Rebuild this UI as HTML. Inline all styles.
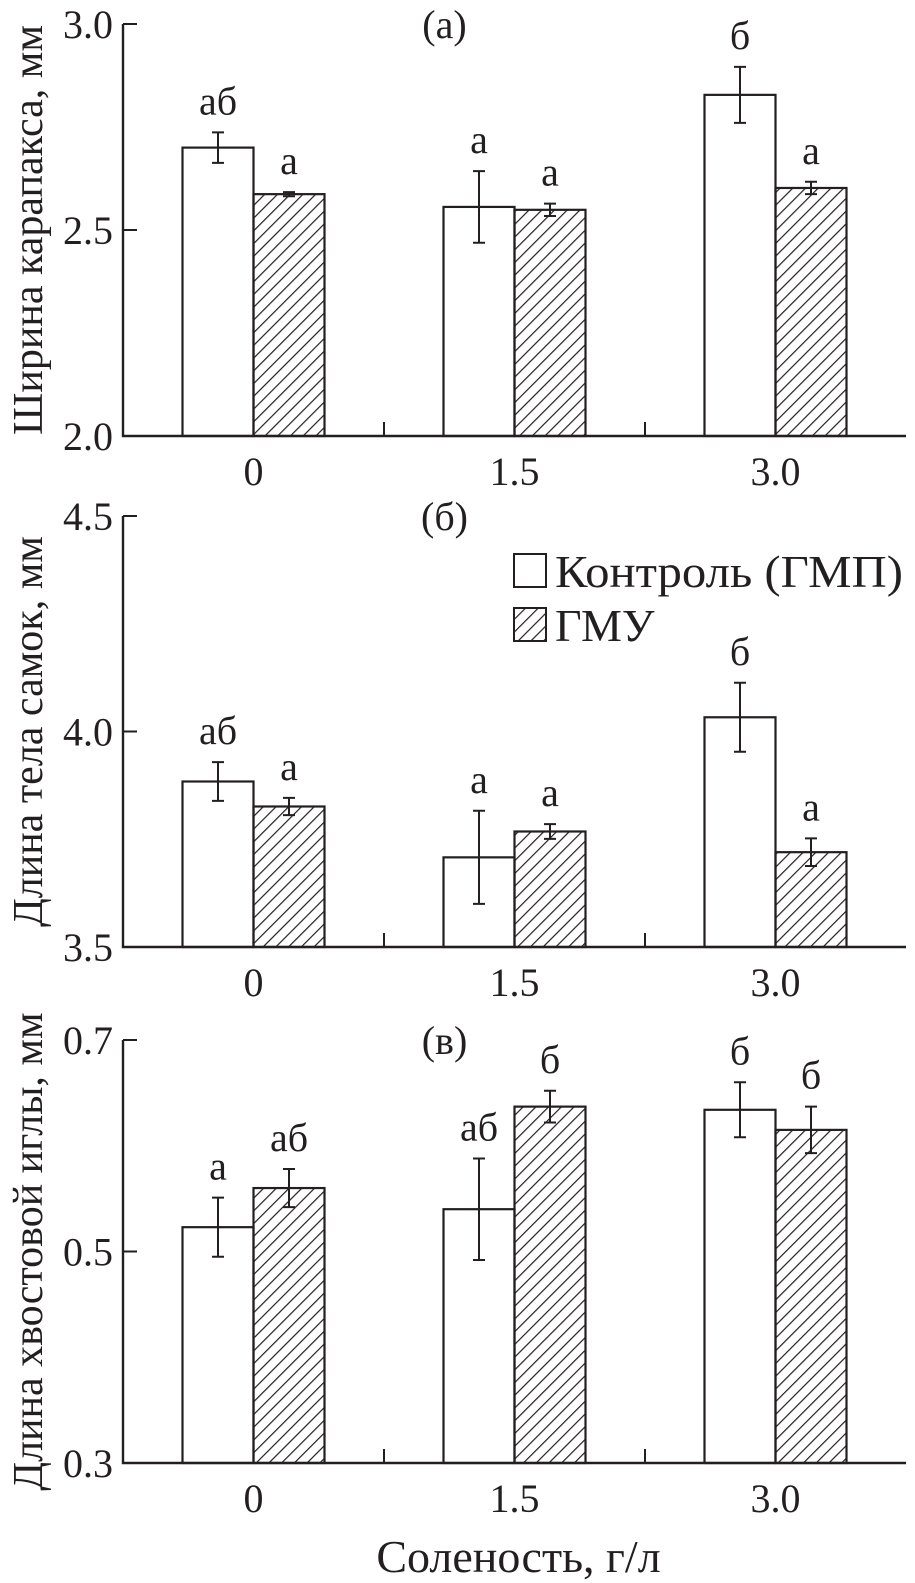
<!DOCTYPE html>
<html><head><meta charset="utf-8"><style>
html,body{margin:0;padding:0;background:#fff}
svg{display:block}
text{font-family:"Liberation Serif",serif;fill:#231f20}
</style></head><body>
<svg id="chart" width="915" height="1583" viewBox="0 0 915 1583" xmlns="http://www.w3.org/2000/svg">
<defs>
<pattern id="hatch" patternUnits="userSpaceOnUse" width="9" height="9" patternTransform="rotate(45)">
<line x1="0" y1="0" x2="0" y2="9" stroke="#231f20" stroke-width="2.4"/>
</pattern>
</defs>
<g id="root"></g>
</svg>
<script>
const categories = ["0","1.5","3.0"];
const ctrlA = [2.70, 2.556, 2.828];
const ctrlAErr = [0.037, 0.087, 0.068];
const gmuA = [2.587, 2.549, 2.602];
const gmuAErr = [0.005, 0.015, 0.015];
const lettersCtrlA = ["аб","а","б"];
const lettersGmuA = ["а","а","а"];
const ctrlB = [3.884, 3.708, 4.033];
const ctrlBErr = [0.045, 0.108, 0.08];
const gmuB = [3.826, 3.768, 3.72];
const gmuBErr = [0.02, 0.017, 0.032];
const lettersCtrlB = ["аб","а","б"];
const lettersGmuB = ["а","а","а"];
const ctrlC = [0.523, 0.540, 0.634];
const ctrlCErr = [0.028, 0.048, 0.026];
const gmuC = [0.560, 0.637, 0.615];
const gmuCErr = [0.018, 0.015, 0.022];
const lettersCtrlC = ["а","аб","б"];
const lettersGmuC = ["аб","б","б"];
const ticksA = ["2.0","2.5","3.0"];
const ticksB = ["3.5","4.0","4.5"];
const ticksC = ["0.3","0.5","0.7"];

const NS="http://www.w3.org/2000/svg";
const root=document.getElementById('root');
function mk(tag,attrs,parent){const e=document.createElementNS(NS,tag);for(const k in attrs)e.setAttribute(k,attrs[k]);(parent||root).appendChild(e);return e;}
const X0=123, GW=261, BW=71;
function xc(i){return X0+GW*i+GW/2;}

function panel(cfg){
  const g=mk('g',{});
  
  
  const vmin=+cfg.ticks[0], vmax=+cfg.ticks[cfg.ticks.length-1];
  const y=v=>cfg.yBot-(v-vmin)/(vmax-vmin)*(cfg.yBot-cfg.yTop);
  for(let i=0;i<categories.length;i++){
    const c=xc(i);
    [[cfg.ctrl,cfg.ctrlErr,'#fff',c-BW,cfg.lc,'control'],[cfg.gmu,cfg.gmuErr,'url(#hatch)',c,cfg.lg,'gmu']].forEach(s=>{
      const v=s[0][i], e=s[1][i], x=s[3];
      const r=mk('rect',{x:x,y:y(v),width:BW,height:cfg.yBot-y(v),fill:s[2],stroke:'#231f20','stroke-width':2.2},g);
      
      
      const mx=x+BW/2;
      const eb=mk('path',{d:`M${mx},${y(v+e)}V${y(v-e)}M${mx-6},${y(v+e)}H${mx+6}M${mx-6},${y(v-e)}H${mx+6}`,stroke:'#231f20','stroke-width':2,fill:'none'},g);
      
      
      const t=mk('text',{x:mx,y:y(v+e)-18,'font-size':40,'text-anchor':'middle'},g);
      t.textContent=s[4][i];
      
      
    });
    const xl=mk('text',{x:c,y:cfg.yBot+49,'font-size':40,'text-anchor':'middle'},g);
    xl.textContent=categories[i];
    
    
  }
  const ax=mk('path',{d:`M${X0},${cfg.yTop}V${cfg.yBot}H${X0+GW*3}`,stroke:'#231f20','stroke-width':2.4,fill:'none'},g);
  
  
  for(let k=1;k<3;k++){mk('line',{x1:X0+GW*k,x2:X0+GW*k,y1:cfg.yBot,y2:cfg.yBot-14,stroke:'#231f20','stroke-width':2},g);}
  cfg.ticks.forEach(tv=>{
    const yy=y(+tv);
    mk('line',{x1:X0,x2:X0+14,y1:yy,y2:yy,stroke:'#231f20','stroke-width':2},g);
    const t=mk('text',{x:X0-10,y:yy+14,'font-size':40,'text-anchor':'end'},g);
    t.textContent=tv;
    
    
  });
  const ti=mk('text',{x:xc(1)-70,y:cfg.yTop+14,'font-size':40,'text-anchor':'middle'},g);
  ti.textContent=cfg.label;
  
  
  const yt=mk('text',{x:0,y:0,'font-size':42,'text-anchor':'middle',transform:`translate(42,${(cfg.yTop+cfg.yBot)/2}) rotate(-90)`},g);
  yt.textContent=cfg.ytitle;
  
  
}
panel({name:'panel-a',yTop:24,yBot:436,ticks:ticksA,ctrl:ctrlA,ctrlErr:ctrlAErr,gmu:gmuA,gmuErr:gmuAErr,lc:lettersCtrlA,lg:lettersGmuA,label:'(а)',ytitle:'Ширина карапакса, мм'});
panel({name:'panel-b',yTop:516,yBot:947,ticks:ticksB,ctrl:ctrlB,ctrlErr:ctrlBErr,gmu:gmuB,gmuErr:gmuBErr,lc:lettersCtrlB,lg:lettersGmuB,label:'(б)',ytitle:'Длина тела самок, мм'});
panel({name:'panel-c',yTop:1040,yBot:1463,ticks:ticksC,ctrl:ctrlC,ctrlErr:ctrlCErr,gmu:gmuC,gmuErr:gmuCErr,lc:lettersCtrlC,lg:lettersGmuC,label:'(в)',ytitle:'Длина хвостовой иглы, мм'});

const lg=mk('g',{});


mk('rect',{x:514,y:554,width:32,height:33,fill:'#fff',stroke:'#231f20','stroke-width':2},lg);
let t1=mk('text',{x:555,y:587,'font-size':46,textLength:348,lengthAdjust:'spacingAndGlyphs'},lg);t1.textContent='Контроль (ГМП)';


mk('rect',{x:514,y:608,width:32,height:33,fill:'url(#hatch)',stroke:'#231f20','stroke-width':2},lg);
let t2=mk('text',{x:555,y:641,'font-size':46},lg);t2.textContent='ГМУ';



const xt=mk('text',{x:xc(1)+4,y:1572,'font-size':46,'text-anchor':'middle'});
xt.textContent='Соленость, г/л';


</script>
</body></html>
